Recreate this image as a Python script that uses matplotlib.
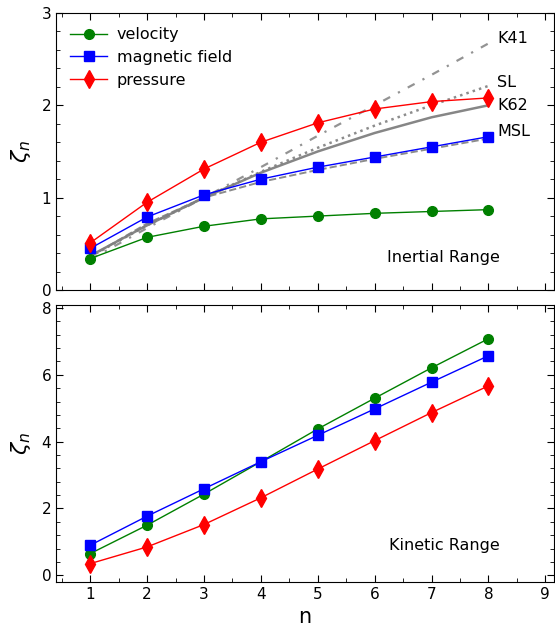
import numpy as np
import matplotlib
matplotlib.use("Agg")
import matplotlib.pyplot as plt
from matplotlib.ticker import MultipleLocator

n = np.arange(1, 9)

# inertial range exponents
vel_in = [0.34, 0.57, 0.69, 0.77, 0.80, 0.83, 0.85, 0.87]
mag_in = [0.45, 0.79, 1.03, 1.20, 1.33, 1.44, 1.55, 1.66]
prs_in = [0.51, 0.95, 1.31, 1.60, 1.81, 1.96, 2.04, 2.08]

# model curves
k41 = [0.33, 0.67, 1.00, 1.33, 1.67, 2.00, 2.33, 2.67]
sl = [0.36, 0.70, 1.00, 1.28, 1.54, 1.78, 2.00, 2.21]
k62 = [0.37, 0.70, 1.00, 1.27, 1.50, 1.70, 1.87, 2.00]
msl = [0.36, 0.72, 1.00, 1.17, 1.30, 1.42, 1.53, 1.64]

# kinetic range exponents
vel_kin = [0.65, 1.50, 2.43, 3.40, 4.38, 5.30, 6.21, 7.08]
mag_kin = [0.90, 1.77, 2.59, 3.40, 4.19, 4.98, 5.78, 6.57]
prs_kin = [0.35, 0.85, 1.52, 2.32, 3.18, 4.03, 4.87, 5.67]

fig = plt.figure(figsize=(5.55, 6.29), dpi=100)
ax1 = fig.add_axes([0.101, 0.539, 0.897, 0.4404])
ax2 = fig.add_axes([0.101, 0.0747, 0.897, 0.441])

grey = '#808080'
ax1.plot(n, k41, color=grey, lw=1.6, dashes=(3.5, 4, 1, 4), alpha=0.85)
ax1.plot(n, sl, ':', color=grey, lw=1.8, alpha=0.9)
ax1.plot(n, k62, '-', color=grey, lw=1.8, alpha=0.95)
ax1.plot(n, msl, '--', color=grey, lw=1.4, alpha=0.9)

kw = dict(lw=1, ms=7)
ax1.plot(n, vel_in, 'o-', color='green', label='velocity', **kw)
ax1.plot(n, mag_in, 's-', color='blue', label='magnetic field', **kw)
ax1.plot(n, prs_in, 'd-', color='red', label='pressure', ms=9, lw=1)

ax2.plot(n, vel_kin, 'o-', color='green', **kw)
ax2.plot(n, mag_kin, 's-', color='blue', **kw)
ax2.plot(n, prs_kin, 'd-', color='red', ms=9, lw=1)

for lab, y in zip(['K41', 'SL', 'K62', 'MSL'], [2.72, 2.25, 2.0, 1.72]):
    ax1.text(8.15, y, lab, fontsize=11.5, va='center')

ax1.text(8.2, 0.35, 'Inertial Range', fontsize=11.5, ha='right', va='center')
ax2.text(8.2, 0.9, 'Kinetic Range', fontsize=11.5, ha='right', va='center')

ax1.legend(loc='upper left', frameon=False, fontsize=11.5, handlelength=2.3,
           borderaxespad=0.5, labelspacing=0.48, handletextpad=0.6)

for ax in (ax1, ax2):
    ax.set_xlim(0.4, 9.15)
    ax.xaxis.set_major_locator(MultipleLocator(1))
    ax.xaxis.set_minor_locator(MultipleLocator(0.5))
    ax.tick_params(which='both', direction='in', top=True, right=True, labelsize=11)
    ax.tick_params(which='major', length=5)
    ax.tick_params(which='minor', length=3)
    ax.set_ylabel(r'$\zeta_n$', fontsize=16, labelpad=6)

ax1.set_ylim(0, 3)
ax1.yaxis.set_major_locator(MultipleLocator(1))
ax1.yaxis.set_minor_locator(MultipleLocator(0.2))
ax1.tick_params(labelbottom=False)

ax2.set_ylim(-0.2, 8.1)
ax2.yaxis.set_major_locator(MultipleLocator(2))
ax2.yaxis.set_minor_locator(MultipleLocator(0.4))
ax2.set_xlabel('n', fontsize=15)

fig.savefig('out.png', dpi=100)
